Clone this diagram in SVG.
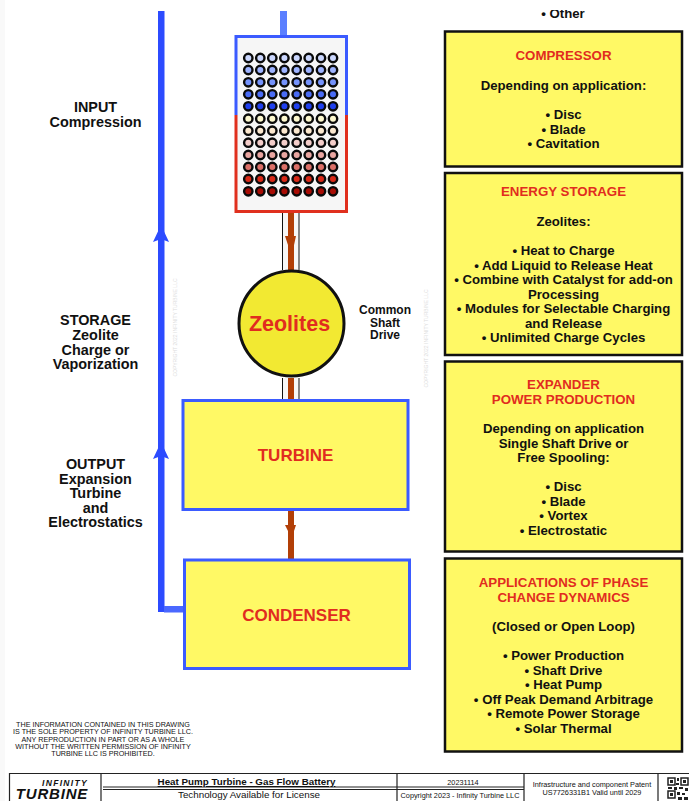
<svg xmlns="http://www.w3.org/2000/svg" xmlns:xlink="http://www.w3.org/1999/xlink" width="689" height="801" viewBox="0 0 689 801">
<style>
text{font-family:"Liberation Sans",Arial,sans-serif;text-anchor:middle;font-weight:bold;fill:#111}
.b{font-size:13.200px}
.c{font-size:14.400px}
.h{font-size:13.300px;fill:#e12c1f}
.box{fill:#fff965;stroke:#111;stroke-width:2.500}
.unit{fill:#fff965;stroke:#3b5bff;stroke-width:3}
.sh{fill:none;stroke:#111;stroke-width:1}
.red{fill:#b23f07}
.blue{fill:#2c4bff}
.wm{font-size:5px;font-weight:normal;fill:#ddd}
.s{font-size:7.200px;font-weight:normal}
.f{font-weight:normal;font-size:7.300px}
.ln{stroke:#222;stroke-width:1.200;fill:none}
.d{stroke:#0a0a0a;stroke-width:2.400}
</style>
<defs>
<g id="row"><circle cx="248.300" r="4.200"/><circle cx="260.300" r="4.200"/><circle cx="272.300" r="4.200"/><circle cx="284.400" r="4.200"/><circle cx="296.700" r="4.200"/><circle cx="308.700" r="4.200"/><circle cx="321" r="4.200"/><circle cx="333" r="4.200"/></g>
</defs>
<rect width="689" height="801" fill="#fff"/>
<rect width="5" height="801" fill="#f9f9f9"/>
<g id="connectors">
<rect x="158" y="11" width="6.500" height="601" class="blue"/>
<rect x="164" y="606" width="20" height="6.500" fill="#4a68ff"/>
<path d="M161 225 L169 242 L161 239 L153 242 Z" class="blue"/>
<path d="M161 442 L169 459 L161 456 L153 459 Z" class="blue"/>
<rect x="280" y="11" width="7" height="25" fill="#5b7fff"/>
<path d="M282 213H299V270H282ZM282 378H299V400H282Z" fill="#f7f7f7"/>
<path class="sh" d="M282.500 213V270M299 213V270M282.500 378V400M299 378V400"/>
<rect x="288" y="213" width="6" height="57" class="red"/>
<rect x="288" y="378" width="6" height="22" class="red"/>
<path d="M285 236 L296 236 L294 245 L291 252 L288 245 Z" class="red"/>
<rect x="288" y="510" width="6" height="50" class="red"/>
<path d="M285 525 L296 525 L294 531 L291 537 L288 531 Z" class="red"/>
</g>
<g id="compressor-vessel">
<rect x="236" y="36.500" width="110.500" height="175" fill="#f6f6f6"/>
<path d="M236 115V36.500H346.500V115" fill="none" stroke="#3b5bff" stroke-width="3"/>
<path d="M236 115V211.500H346.500V115" fill="none" stroke="#e0301e" stroke-width="3"/>
<g class="d" id="dots">
<use xlink:href="#row" href="#row" y="58" fill="#ccd8ff"/>
<use xlink:href="#row" href="#row" y="70" fill="#9db3ff"/>
<use xlink:href="#row" href="#row" y="82.300" fill="#7492fb"/>
<use xlink:href="#row" href="#row" y="94.300" fill="#4a6cf5"/>
<use xlink:href="#row" href="#row" y="106.300" fill="#1f3fee"/>
<use xlink:href="#row" href="#row" y="118.700" fill="#fdf8cf"/>
<use xlink:href="#row" href="#row" y="130.700" fill="#fbe8cf"/>
<use xlink:href="#row" href="#row" y="142.700" fill="#f3cdc9"/>
<use xlink:href="#row" href="#row" y="155" fill="#e9a5a0"/>
<use xlink:href="#row" href="#row" y="167" fill="#dc7068"/>
<use xlink:href="#row" href="#row" y="179" fill="#d92a18"/>
<use xlink:href="#row" href="#row" y="191.300" fill="#a80d05"/>
</g>
</g>
<g id="zeolites">
<circle cx="291.500" cy="323.500" r="52.500" fill="#f2e932" stroke="#111" stroke-width="3"/>
<text x="289.500" y="330.500" style="font-size:21.500px;fill:#e12c1f">Zeolites</text>
</g>
<g id="turbine">
<rect x="183" y="400.500" width="225" height="109" class="unit"/>
<text x="295.500" y="461" style="font-size:17px;fill:#e12c1f">TURBINE</text>
</g>
<g id="condenser">
<rect x="184.500" y="560" width="225" height="108.500" class="unit"/>
<text x="296.500" y="621" style="font-size:17px;fill:#e12c1f">CONDENSER</text>
</g>
<g id="left-labels">
<text class="c" x="95.500" y="112">INPUT</text>
<text class="c" x="95.500" y="127">Compression</text>
<text class="c" x="95.500" y="325">STORAGE</text>
<text class="c" x="95.500" y="340">Zeolite</text>
<text class="c" x="95.500" y="354.500">Charge or</text>
<text class="c" x="95.500" y="369">Vaporization</text>
<text class="c" x="95.500" y="469">OUTPUT</text>
<text class="c" x="95.500" y="483.500">Expansion</text>
<text class="c" x="95.500" y="498">Turbine</text>
<text class="c" x="95.500" y="512.500">and</text>
<text class="c" x="95.500" y="527">Electrostatics</text>
</g>
<g id="shaft-label">
<text x="385" y="314" style="font-size:12px">Common</text>
<text x="385" y="326.500" style="font-size:12px">Shaft</text>
<text x="385" y="339" style="font-size:12px">Drive</text>
</g>
<text class="wm" transform="translate(177 327.500) rotate(-90)">COPYRIGHT 2022 INFINITY TURBINE  LLC</text>
<text class="wm" transform="translate(428 338.500) rotate(-90)">COPYRIGHT 2022 INFINITY TURBINE  LLC</text>
<text x="563" y="17.500" class="b">• Other</text>
<rect x="440" width="249" height="10" fill="#fff"/>
<g id="compressor-box">
<rect class="box" x="445" y="31.500" width="237" height="135"/>
<text class="h" x="563.500" y="60">COMPRESSOR</text>
<text class="b" x="563.500" y="90">Depending on application:</text>
<text class="b" x="563.500" y="119">• Disc</text>
<text class="b" x="563.500" y="133.500">• Blade</text>
<text class="b" x="563.500" y="148">• Cavitation</text>
</g>
<g id="storage-box">
<rect class="box" x="445" y="173" width="237" height="182"/>
<text class="h" x="563.500" y="196">ENERGY STORAGE</text>
<text class="b" x="563.500" y="226">Zeolites:</text>
<text class="b" x="563.500" y="255">• Heat to Charge</text>
<text class="b" x="563.500" y="269.500">• Add Liquid to Release Heat</text>
<text class="b" x="563.500" y="284">• Combine with Catalyst for add-on</text>
<text class="b" x="563.500" y="298.500">Processing</text>
<text class="b" x="563.500" y="313">• Modules for Selectable Charging</text>
<text class="b" x="563.500" y="327.500">and Release</text>
<text class="b" x="563.500" y="342">• Unlimited Charge Cycles</text>
</g>
<g id="expander-box">
<rect class="box" x="445" y="361.500" width="237" height="190"/>
<text class="h" x="563.500" y="389">EXPANDER</text>
<text class="h" x="563.500" y="403.500">POWER PRODUCTION</text>
<text class="b" x="563.500" y="433">Depending on application</text>
<text class="b" x="563.500" y="447.500">Single Shaft Drive or</text>
<text class="b" x="563.500" y="462">Free Spooling:</text>
<text class="b" x="563.500" y="491">• Disc</text>
<text class="b" x="563.500" y="505.500">• Blade</text>
<text class="b" x="563.500" y="520">• Vortex</text>
<text class="b" x="563.500" y="534.500">• Electrostatic</text>
</g>
<g id="applications-box">
<rect class="box" x="445" y="558.500" width="237" height="193"/>
<text class="h" x="563.500" y="587">APPLICATIONS OF PHASE</text>
<text class="h" x="563.500" y="601.500">CHANGE DYNAMICS</text>
<text class="b" x="563.500" y="631">(Closed or Open Loop)</text>
<text class="b" x="563.500" y="660">• Power Production</text>
<text class="b" x="563.500" y="674.500">• Shaft Drive</text>
<text class="b" x="563.500" y="689">• Heat Pump</text>
<text class="b" x="563.500" y="703.500">• Off Peak Demand Arbitrage</text>
<text class="b" x="563.500" y="718">• Remote Power Storage</text>
<text class="b" x="563.500" y="732.500">• Solar Thermal</text>
</g>
<g id="notice">
<text class="s" x="103" y="727">THE INFORMATION CONTAINED IN THIS DRAWING</text>
<text class="s" x="103" y="734.300">IS THE SOLE PROPERTY OF INFINITY TURBINE LLC.</text>
<text class="s" x="103" y="741.600">ANY REPRODUCTION IN PART OR AS A WHOLE</text>
<text class="s" x="103" y="749">WITHOUT THE WRITTEN PERMISSION OF INFINITY</text>
<text class="s" x="103" y="756.300">TURBINE LLC IS PROHIBITED.</text>
</g>
<g id="title-block">
<path class="ln" d="M9.500 801V773.500H689M101 773.500V801M397 773.500V801M524 773.500V801M658 773.500V801"/>
<path class="ln" d="M103 787H524M103 789.500H524" stroke-width="0.800"/>
<text x="65" y="786" style="font-size:8.500px;font-style:italic;letter-spacing:1.300px">INFINITY</text>
<text x="52" y="798.500" style="font-size:15px;font-style:italic;letter-spacing:0.800px">TURBINE</text>
<text x="246.500" y="785" style="font-size:9.800px;text-decoration:underline">Heat Pump Turbine - Gas Flow Battery</text>
<text x="249" y="798" style="font-size:9.800px;font-weight:normal">Technology Available for License</text>
<text class="f" x="463" y="785">20231114</text>
<text class="f" x="460" y="798">Copyright 2023 - Infinity Turbine LLC</text>
<text class="f" x="592" y="787">Infrastructure and component Patent</text>
<text class="f" x="592" y="795">US7726331B1 Valid until 2029</text>
<g id="qr" fill="#222">
<rect x="668" y="777" width="20" height="24" fill="#fff"/>
<path d="M668 778h7v7h-7zM681 778h7v7h-7zM668 791h7v7h-7z" fill="none" stroke="#222" stroke-width="1.500"/>
<path d="M670 780h3v3h-3zM683 780h3v3h-3zM670 793h3v3h-3zM677 778h2v3h-2zM676 783h3v2h-3zM668 787h4v2h-4zM674 787h3v3h-3zM679 787h4v2h-4zM685 788h3v3h-3zM677 792h3v3h-3zM682 793h3v2h-3zM678 797h4v3h-4zM684 797h4v3h-4z"/>
</g>
</g>
</svg>
